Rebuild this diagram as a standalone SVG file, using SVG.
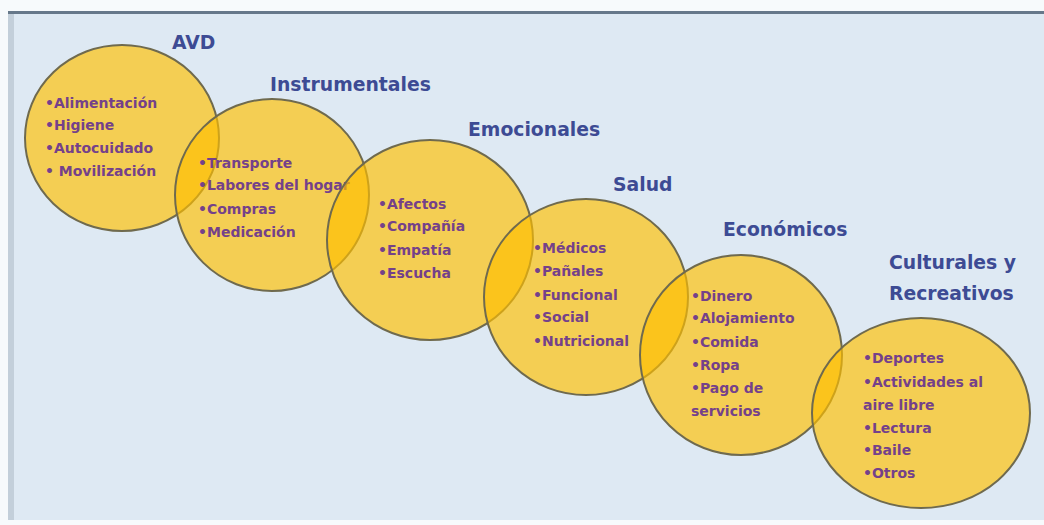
<svg xmlns="http://www.w3.org/2000/svg" width="1044" height="525" viewBox="0 0 1044 525">
<style>
.c{fill:#ffc000;fill-opacity:.66;stroke:#6f6a4e;stroke-width:2}
.t{font-family:"DejaVu Sans",sans-serif;font-weight:bold;font-size:18.8px;fill:#3d4b94}
.i{font-family:"DejaVu Sans",sans-serif;font-weight:bold;font-size:14px;fill:#74418a}
</style>
<rect x="0" y="0" width="1044" height="525" fill="#f7fafc"/>
<rect x="10" y="12" width="1034" height="508" fill="#dee9f3"/>
<rect x="8" y="13" width="6" height="507" fill="#c3cfda"/>
<rect x="8" y="11" width="1036" height="3" fill="#66788a"/>
<g id="connectors"/>
<g id="avd">
<ellipse class="c" cx="122" cy="138" rx="97" ry="93"/>
<text class="t" x="172" y="49">AVD</text>
<text class="i" x="45" y="108">•Alimentación</text>
<text class="i" x="45" y="130">•Higiene</text>
<text class="i" x="45" y="153">•Autocuidado</text>
<text class="i" x="45" y="176">• Movilización</text>
</g>
<g id="instrumentales">
<ellipse class="c" cx="272" cy="195" rx="97" ry="96"/>
<text class="t" x="270" y="91">Instrumentales</text>
<text class="i" x="198" y="168">•Transporte</text>
<text class="i" x="198" y="190">•Labores del hogar</text>
<text class="i" x="198" y="214">•Compras</text>
<text class="i" x="198" y="237">•Medicación</text>
</g>
<g id="emocionales">
<ellipse class="c" cx="430" cy="240" rx="103" ry="100"/>
<text class="t" x="468" y="136">Emocionales</text>
<text class="i" x="378" y="209">•Afectos</text>
<text class="i" x="378" y="231">•Compañía</text>
<text class="i" x="378" y="255">•Empatía</text>
<text class="i" x="378" y="278">•Escucha</text>
</g>
<g id="salud">
<ellipse class="c" cx="586" cy="297" rx="102" ry="98"/>
<text class="t" x="613" y="191">Salud</text>
<text class="i" x="533" y="253">•Médicos</text>
<text class="i" x="533" y="276">•Pañales</text>
<text class="i" x="533" y="300">•Funcional</text>
<text class="i" x="533" y="322">•Social</text>
<text class="i" x="533" y="346">•Nutricional</text>
</g>
<g id="economicos">
<ellipse class="c" cx="741" cy="355" rx="101" ry="100"/>
<text class="t" x="723" y="236">Económicos</text>
<text class="i" x="691" y="301">•Dinero</text>
<text class="i" x="691" y="323">•Alojamiento</text>
<text class="i" x="691" y="347">•Comida</text>
<text class="i" x="691" y="370">•Ropa</text>
<text class="i" x="691" y="393">•Pago de</text>
<text class="i" x="691" y="416">servicios</text>
</g>
<g id="culturales">
<ellipse class="c" cx="921" cy="413" rx="109" ry="95"/>
<text class="t" x="889" y="269">Culturales y</text>
<text class="t" x="889" y="300">Recreativos</text>
<text class="i" x="863" y="363">•Deportes</text>
<text class="i" x="863" y="387">•Actividades al</text>
<text class="i" x="863" y="410">aire libre</text>
<text class="i" x="863" y="433">•Lectura</text>
<text class="i" x="863" y="455">•Baile</text>
<text class="i" x="863" y="478">•Otros</text>
</g>
</svg>
